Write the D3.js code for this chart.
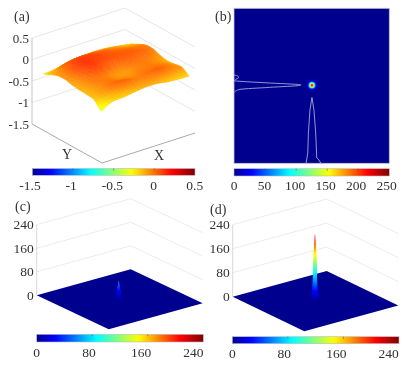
<!DOCTYPE html>
<html><head><meta charset="utf-8">
<script src="https://cdn.jsdelivr.net/npm/d3@7"></script>
<style>html,body{margin:0;padding:0;background:#fff}svg{display:block;filter:blur(0.35px)}text{font-family:"Liberation Serif",serif;fill:#333}</style>
</head><body><svg id="c" width="413" height="375"></svg>
<script>
// ---- data ----
const ticksA = [-1.5,-1,-0.5,0,0.5];
const ticksB = [0,50,100,150,200,250];
const ticksCD = [0,80,160,240];
const surfaceU = [0.10,0.2025,0.305,0.4075,0.51,0.6125,0.715,0.8175,0.92];
const surfaceV = [0.05,0.169,0.2875,0.406,0.525,0.644,0.7625,0.881,1.0];
const surfaceZ = [
 [-.22,-.20,-.16,-.10,-.08,-.08,-.10,-.14,-.18],
 [-.14,-.02, .04, .05, .03, .00,-.04,-.08,-.10],
 [-.08, .04, .11, .10, .07, .04, .02,-.01,-.03],
 [-.07, .05, .12, .09, .06, .05, .04, .02,-.03],
 [-.11, .00, .07, .03,-.01, .01, .00,-.02,-.09],
 [-.13,-.03,-.01,-.06,-.08,-.04,-.02,-.06,-.12],
 [-.14,-.06,-.01,-.04,-.06,-.02,-.01,-.03,-.10],
 [-.17,-.08, .00, .01,-.03, .00, .02,-.03,-.08],
 [-.34,-.21,-.19,-.15,-.12,-.12,-.16,-.18,-.19]];
// panel b: radial spot (radius in %, value)
const spotRadius = [7,5.5,4.5,3.5,2.8,2.2,1.6,1.0,0.5,0];
const spotValue  = [0,6,18,45,85,130,165,190,210,220];
// panel b: projections (position %, value %)
const leftProfilePos = [43,43.9,44.9,45.8,46.8,47.1,48.2,49.4,49.7,51,52.3,53.2,54.5];
const leftProfileVal = [0,2.6,2.9,1.3,0.3,3.9,23,43,42.5,23,3.9,1.3,0];
const bottomProfilePos = [46.4,47.5,47.9,48.9,50.2,51.5,52.6,53.3,54,56];
const bottomProfileVal = [0,6.6,19.5,34.3,42.5,34.3,19.5,3.4,3,0];
// panels c, d: peak cross sections
const peakCValue  = [0,8,20,32,44,56];
const peakCRadius = [4,2.9,2.1,1.5,0.9,0.3];
const peakDValue  = [0,10,30,60,100,150,190,213];
const peakDRadius = [6,3.8,2.9,2.4,2,1.5,0.9,0.3];

// ---- helpers ----
const svg = d3.select("#c");
const jet = d3.scaleLinear().domain([0,.11,.36,.61,.86,1])
  .range(["#00008f","#0000ff","#00ffff","#ffff00","#ff0000","#800000"]).clamp(true);

let gid=0;
function colorbar(x0,x1,y0,y1,domain,ticks,labelRange,labelY){
  const id="g"+(gid++);
  const lg=svg.append("defs").append("linearGradient").attr("id",id);
  d3.range(0,1.001,.02).forEach(t=>lg.append("stop").attr("offset",t).attr("stop-color",jet(t)));
  svg.append("rect").attr("x",x0).attr("y",y0).attr("width",x1-x0).attr("height",y1-y0)
    .attr("fill",`url(#${id})`).attr("stroke","#b9b9c9").attr("stroke-width",.6);
  const s=d3.scaleLinear().domain(domain).range([x0,x1]);
  const l=d3.scaleLinear().domain(domain).range(labelRange);
  svg.append("g").selectAll("line").data(ticks.slice(1,-1)).join("line")
    .attr("x1",s).attr("x2",s).attr("y1",y0).attr("y2",y0+2).attr("stroke","#555").attr("stroke-width",.6);
  svg.append("g").selectAll("text").data(ticks).join("text")
    .attr("x",l).attr("y",labelY).attr("text-anchor","middle").attr("font-size",13.5).text(d=>d);
}
function box3d(o){
  const zs=d3.scaleLinear().domain(o.zDomain).range([0,o.zH]);
  const P=(u,v,z)=>[o.L[0]+u*o.a[0]+v*o.b[0], o.L[1]+u*o.a[1]+v*o.b[1]-zs(z)];
  const line=d3.line();
  const g=svg.append("g");
  o.gridTicks.forEach(z=>{
    g.append("path").attr("d",line([P(0,0,z),P(0,1,z),P(1,1,z)]))
     .attr("fill","none").attr("stroke",o.gridColor).attr("stroke-width",1);
  });
  g.append("path").attr("d",line([P(0,0,o.zDomain[0]),P(0,0,o.zDomain[1])]))
   .attr("fill","none").attr("stroke",o.axisColor).attr("stroke-width",1);
  g.selectAll("text").data(o.zTicks).join("text")
   .attr("x",o.L[0]-o.labelGap).attr("y",d=>P(0,0,d)[1]+4.5).attr("text-anchor","end")
   .attr("font-size",o.fontSize).text(d=>d);
  return P;
}
function peak(P,u,v,values,radii,domainMax){
  const r=d3.scaleLinear().domain(values).range(radii);
  const top=values[values.length-1];
  const g=svg.append("g");
  d3.range(0,top+.01,top/120).forEach(val=>{
    const c=P(u,v,val), rx=r(val)*.94;
    g.append("ellipse").attr("cx",c[0]).attr("cy",c[1]).attr("rx",rx).attr("ry",rx*.55)
     .attr("fill",jet(val/domainMax));
  });
}
function label(t,x,y){svg.append("text").attr("x",x).attr("y",y).attr("font-size",14).text(t);}

// ---- panel a ----
const Pa=box3d({L:[32,124],a:[70,39],b:[93,-30],zDomain:[-1.5,.5],zH:86,zTicks:ticksA,
  gridTicks:[-1,-.5,0,.5],gridColor:"#e6e6e6",axisColor:"#c4c4c4",labelGap:3,fontSize:13});
svg.append("path").attr("d",d3.line()([Pa(0,0,-1.5),Pa(1,0,-1.5),Pa(1,1,-1.5)]))
  .attr("fill","none").attr("stroke","#a9a9a9").attr("stroke-width",1);
function cr(a,b,c,d,t){return .5*(2*b+(c-a)*t+(2*a-5*b+4*c-d)*t*t+(3*b-a-3*c+d)*t*t*t);}
function surf(fi,fj){ // smooth read of the table for drawing
  const n=surfaceU.length-1,m=surfaceV.length-1;
  const i=Math.min(Math.floor(fi),n-1),j=Math.min(Math.floor(fj),m-1),ti=fi-i,tj=fj-j;
  const row=k=>{const R=surfaceZ[Math.max(0,Math.min(n,k))];
    return cr(R[Math.max(0,j-1)],R[j],R[j+1],R[Math.min(m,j+2)],tj);};
  return cr(row(i-1),row(i),row(i+1),row(i+2),ti);
}
{
  const us=d3.scaleLinear().domain(d3.range(surfaceU.length)).range(surfaceU);
  const vs=d3.scaleLinear().domain(d3.range(surfaceV.length)).range(surfaceV);
  const N=64,st=(surfaceU.length-1)/N,cells=[];
  for(let a=0;a<N;a++)for(let b=0;b<N;b++)cells.push([a*st,b*st]);
  cells.sort((p,q)=>(p[0]-p[1])-(q[0]-q[1]));
  const g=svg.append("g");
  cells.forEach(([fi,fj])=>{
    const c=[[fi,fj],[fi+st,fj],[fi+st,fj+st],[fi,fj+st]];
    const z=c.map(q=>surf(q[0],q[1]));
    const pts=c.map((q,k)=>Pa(us(q[0]),vs(q[1]),z[k]-.06));
    const col=jet((d3.mean(z)+1.5)/2);
    g.append("path").attr("d",d3.line()(pts)+"Z").attr("fill",col).attr("stroke",col).attr("stroke-width",.4);
  });
}
colorbar(32.3,195,168.5,175.3,[-1.5,.5],ticksA,[30,194.7],190);
label("(a)",14,21);
svg.append("text").attr("x",67).attr("y",159).attr("text-anchor","middle").attr("font-size",14).text("Y");
svg.append("text").attr("x",159).attr("y",160).attr("text-anchor","middle").attr("font-size",14).text("X");

// ---- panel b ----
{
  const x=d3.scaleLinear().domain([0,100]).range([234,389.3]);
  const y=d3.scaleLinear().domain([0,100]).range([8.3,163.3]);
  const k=1.553;
  svg.append("rect").attr("x",x(0)).attr("y",y(0)).attr("width",x(100)-x(0)).attr("height",y(100)-y(0))
    .attr("fill",jet(0)).attr("stroke","#c4c4c4").attr("stroke-width",.8);
  const cx=50.2,cy=49.6;
  const rv=d3.scaleLinear().domain(spotRadius).range(spotValue);
  d3.range(7,0,-.1).forEach(rr=>{
    svg.append("circle").attr("cx",x(cx)).attr("cy",y(cy)).attr("r",rr*k*.62).attr("fill",jet(rv(rr)/250));
  });
  const stroke="#a6a6d8";
  svg.append("path").attr("fill","none").attr("stroke",stroke).attr("stroke-width",.9)
    .attr("d",d3.line().x((d,i)=>x(leftProfileVal[i])).y(d=>y(d)).curve(d3.curveMonotoneY)(leftProfilePos));
  svg.append("path").attr("fill","none").attr("stroke",stroke).attr("stroke-width",.9)
    .attr("d",d3.line().x(d=>x(d)).y((d,i)=>y(100-bottomProfileVal[i]))(bottomProfilePos));
}
colorbar(234,389.3,168.7,176,[0,250],ticksB,[234,386.7],190);
label("(b)",215,21);

// ---- panel c ----
const Pc=box3d({L:[36.7,295.3],a:[72,34],b:[94,-26],zDomain:[0,240],zH:70.6,zTicks:ticksCD,
  gridTicks:[80,160,240],gridColor:"#ececec",axisColor:"#d8d8d8",labelGap:3,fontSize:13.5});
svg.append("path").attr("d",d3.line()([Pc(0,0,0),Pc(1,0,0),Pc(1,1,0),Pc(0,1,0)])+"Z").attr("fill",jet(0));
peak(Pc,.47,.512,peakCValue,peakCRadius,240);
colorbar(36.7,203.3,334.3,342,[0,240],ticksCD,[36.7,193.3],357);
label("(c)",15,211);

// ---- panel d ----
const Pd=box3d({L:[232.7,296.7],a:[71.6,34.6],b:[94,-25.7],zDomain:[0,240],zH:72,zTicks:ticksCD,
  gridTicks:[80,160,240],gridColor:"#ececec",axisColor:"#d8d8d8",labelGap:3,fontSize:13.5});
svg.append("path").attr("d",d3.line()([Pd(0,0,0),Pd(1,0,0),Pd(1,1,0),Pd(0,1,0)])+"Z").attr("fill",jet(0));
peak(Pd,.44,.54,peakDValue,peakDRadius,240);
colorbar(232.3,399,336.7,343.7,[0,240],ticksCD,[232.3,388.5],358);
label("(d)",210,214);
</script></body></html>
